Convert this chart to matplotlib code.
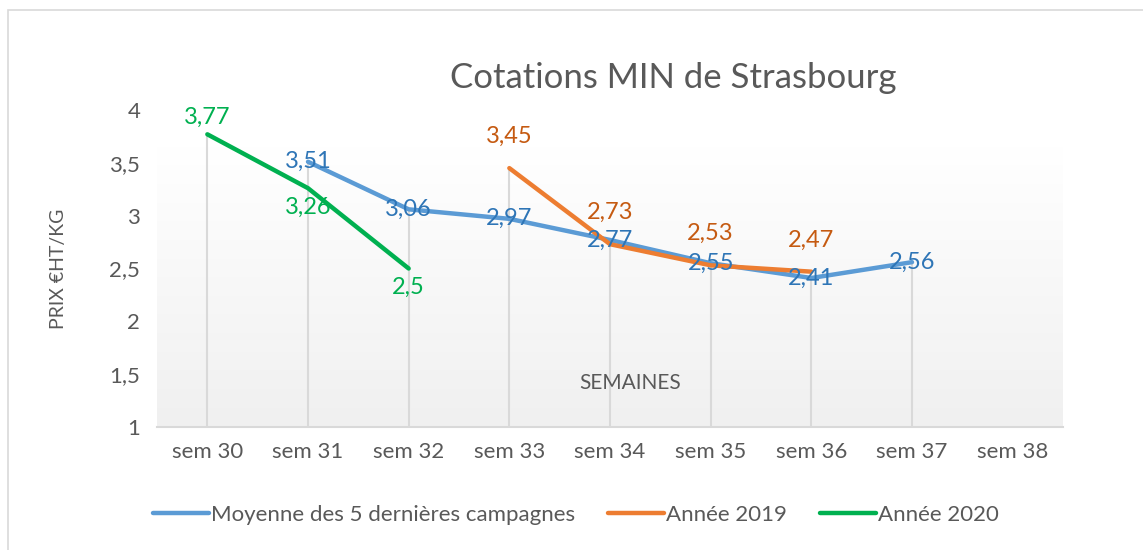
import numpy as np
import matplotlib.pyplot as plt
from matplotlib.patches import Rectangle
from matplotlib.colors import LinearSegmentedColormap

plt.rcParams['font.family'] = ['Lato', 'DejaVu Sans']

# ===== données =====
semaines = ["sem 30", "sem 31", "sem 32", "sem 33", "sem 34", "sem 35", "sem 36", "sem 37", "sem 38"]

moy_x = [1, 2, 3, 4, 5, 6, 7]
moy_y = [3.51, 3.06, 2.97, 2.77, 2.55, 2.41, 2.56]

a2019_x = [3, 4, 5, 6]
a2019_y = [3.45, 2.73, 2.53, 2.47]

a2020_x = [0, 1, 2]
a2020_y = [3.77, 3.26, 2.5]

BLUE, BLUE_TXT = "#5b9bd5", "#2e75b6"
ORANGE, ORANGE_TXT = "#ed7d31", "#c55a11"
GREEN = "#00b050"
GREY_TXT = "#595959"

fig = plt.figure(figsize=(11.43, 5.5), dpi=100)
ax = fig.add_axes([157 / 1143, 1 - 427 / 550, 906 / 1143, 317 / 550])

# cadre extérieur
fig.patches.append(Rectangle((8 / 1143, -0.05), 1.2, 1 - 10 / 550 + 0.05,
                             transform=fig.transFigure, fill=False,
                             edgecolor="#d9d9d9", linewidth=1.2))

# fond dégradé
grad = np.linspace(0, 1, 256).reshape(-1, 1)
cmap = LinearSegmentedColormap.from_list("g", ["#f0f0f0", "#ffffff"])
ax.imshow(grad, extent=(-0.5, 8.5, 1, 3.65), origin="lower", cmap=cmap,
          aspect="auto", zorder=0)

# lignes de projection
all_pts = {}
for xs, ys in [(moy_x, moy_y), (a2019_x, a2019_y), (a2020_x, a2020_y)]:
    for x, y in zip(xs, ys):
        all_pts[x] = max(all_pts.get(x, 0), y)
for x, y in all_pts.items():
    ax.vlines(x, 1, y, color="#d9d9d9", linewidth=1.5, zorder=1)

ax.plot(moy_x, moy_y, color=BLUE, linewidth=3.2, solid_capstyle="round", zorder=3,
        label="Moyenne des 5 dernières campagnes")
ax.plot(a2019_x, a2019_y, color=ORANGE, linewidth=3.2, solid_capstyle="round", zorder=4,
        label="Année 2019")
ax.plot(a2020_x, a2020_y, color=GREEN, linewidth=3.2, solid_capstyle="round", zorder=5,
        label="Année 2020")


def fmt(v):
    return f"{v:g}".replace(".", ",")


fs_lbl = 17
for x, y in zip(moy_x, moy_y):
    ax.text(x, y, fmt(y), color=BLUE_TXT, fontsize=fs_lbl,
            ha="center", va="center", zorder=6)
for x, y in zip(a2019_x, a2019_y):
    ax.text(x, y + 0.2, fmt(y), color=ORANGE_TXT, fontsize=fs_lbl,
            ha="center", va="bottom", zorder=6)
for i, (x, y) in enumerate(zip(a2020_x, a2020_y)):
    if i == 0:
        ax.text(x, y + 0.06, fmt(y), color=GREEN, fontsize=fs_lbl,
                ha="center", va="bottom", zorder=6)
    else:
        ax.text(x, y - 0.08, fmt(y), color=GREEN, fontsize=fs_lbl,
                ha="center", va="top", zorder=6)

ax.set_xlim(-0.5, 8.5)
ax.set_ylim(1, 4)
ax.set_xticks(range(len(semaines)))
ax.set_xticklabels(semaines)
ax.set_yticks([1, 1.5, 2, 2.5, 3, 3.5, 4])
ax.set_yticklabels(["1", "1,5", "2", "2,5", "3", "3,5", "4"])
ax.tick_params(axis="both", length=0, labelsize=16, labelcolor=GREY_TXT)
ax.tick_params(axis="x", pad=11)
ax.tick_params(axis="y", pad=12)
for s in ["top", "right", "left"]:
    ax.spines[s].set_visible(False)
ax.spines["bottom"].set_color("#d9d9d9")
ax.spines["bottom"].set_linewidth(1.5)

ax.set_ylabel("PRIX €HT/KG", fontsize=14, color=GREY_TXT)
ax.yaxis.set_label_coords(-90 / 906, 0.5)
ax.text(4.2, 1.42, "SEMAINES", fontsize=15, color=GREY_TXT, ha="center", va="center")

fig.text(673 / 1143, 1 - 78 / 550, "Cotations MIN de Strasbourg", fontsize=25,
         color=GREY_TXT, ha="center", va="center")

fig.legend(loc="center", bbox_to_anchor=(576 / 1143, 1 - 515 / 550), ncol=3,
           frameon=False, fontsize=16, handlelength=2.5, handletextpad=0.1,
           columnspacing=1.5, labelcolor=GREY_TXT)

fig.savefig("out.png", dpi=100)
